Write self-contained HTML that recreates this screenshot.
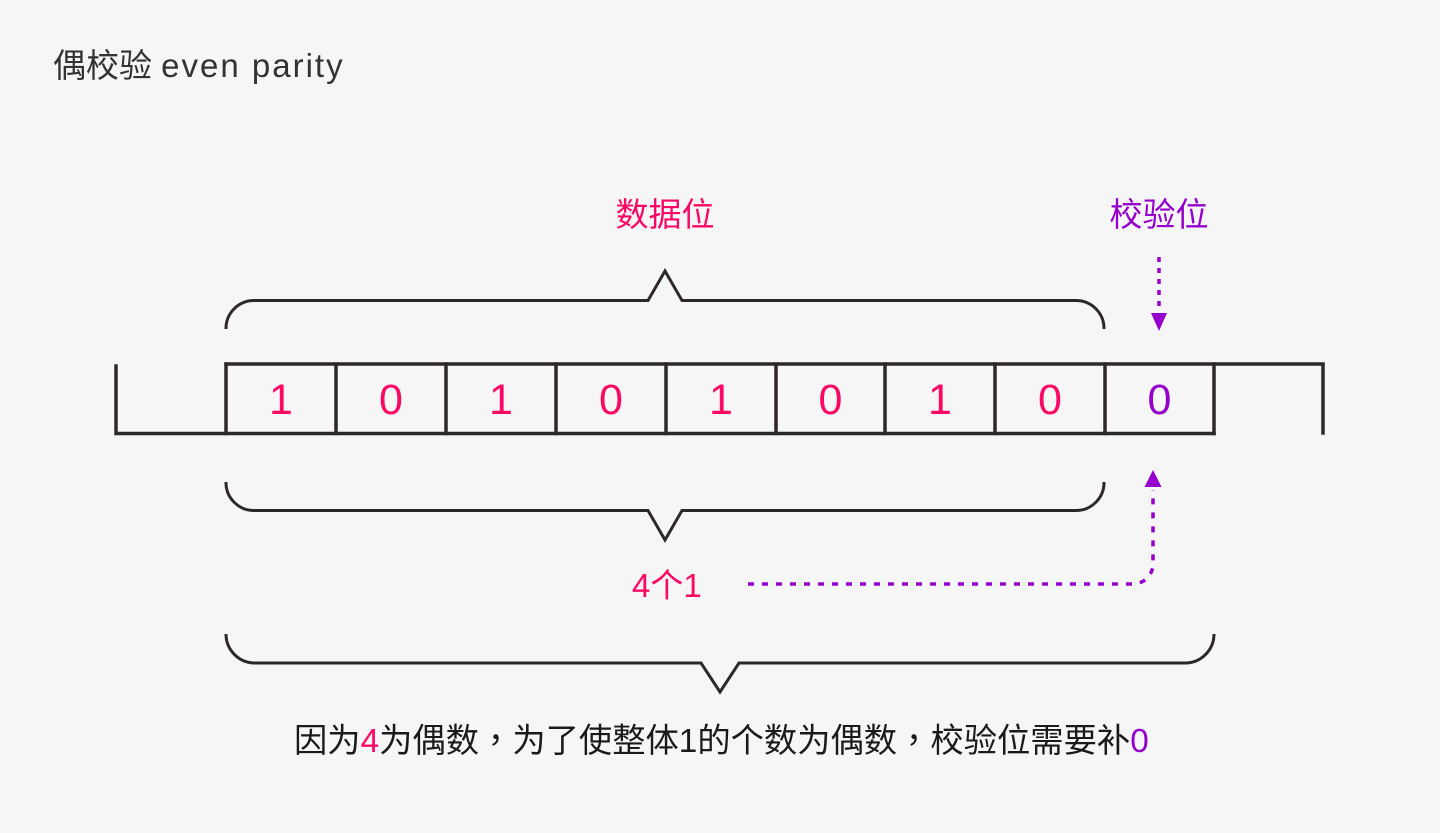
<!DOCTYPE html>
<html>
<head>
<meta charset="utf-8">
<style>
  html,body{margin:0;padding:0;background:#f6f6f6;}
  svg{display:block;}
  .cjk{font-family:"Liberation Sans","Noto Sans CJK SC",sans-serif;}
  .tc{font-family:"Noto Sans CJK TC",sans-serif;}
</style>
</head>
<body>
<svg width="1440" height="833" viewBox="0 0 1440 833" xmlns="http://www.w3.org/2000/svg">
  <rect width="1440" height="833" fill="#f6f6f6"/>

  <!-- Title -->
  <text x="53" y="77" class="cjk" font-size="33" fill="#333333">偶校验 <tspan letter-spacing="2">even parity</tspan></text>

  <!-- Labels -->
  <text x="665" y="226" class="cjk" font-size="33" fill="#fb0865" text-anchor="middle">数据位</text>
  <text x="1159" y="226" class="cjk" font-size="33" fill="#9500cc" text-anchor="middle">校验位</text>

  <g fill="none" stroke="#2e2828" stroke-width="3">
    <!-- top brace -->
    <path d="M226,329 A28,28 0 0 1 254,300.5 H648 L665,271 L682,300.5 H1076 A28,28 0 0 1 1104,329"/>
    <!-- bottom brace 1 -->
    <path d="M226,482 A28,28 0 0 0 254,510.5 H648 L665,540 L682,510.5 H1076 A28,28 0 0 0 1104,482"/>
    <!-- bottom brace 2 -->
    <path d="M226,634 A29,29 0 0 0 255,663 H701 L720,692 L739,663 H1185 A29,29 0 0 0 1214,634"/>
  </g>

  <!-- Signal / cells -->
  <g fill="none" stroke="#2e2828" stroke-width="3.5" stroke-linecap="square">
    <path d="M116,366 V433.5 H1214"/>
    <path d="M226,364 H1323 V433"/>
    <path d="M226,364 V433.5"/>
    <path d="M336,364 V433.5"/>
    <path d="M446,364 V433.5"/>
    <path d="M556,364 V433.5"/>
    <path d="M666,364 V433.5"/>
    <path d="M776,364 V433.5"/>
    <path d="M885,364 V433.5"/>
    <path d="M995,364 V433.5"/>
    <path d="M1105,364 V433.5"/>
    <path d="M1214,364 V433.5"/>
  </g>

  <!-- Digits -->
  <g font-family="'Liberation Sans',sans-serif" font-size="43" text-anchor="middle" fill="#fb0865">
    <text x="281" y="414">1</text>
    <text x="391" y="414">0</text>
    <text x="501" y="414">1</text>
    <text x="611" y="414">0</text>
    <text x="721" y="414">1</text>
    <text x="830.5" y="414">0</text>
    <text x="940" y="414">1</text>
    <text x="1050" y="414">0</text>
    <text x="1159.5" y="414" fill="#9500cc">0</text>
  </g>

  <!-- Top dotted arrow -->
  <path d="M1159,257 V312" stroke="#9500cc" stroke-width="3.5" stroke-dasharray="5 6" fill="none"/>
  <polygon points="1151,313 1167,313 1159,331" fill="#9500cc"/>

  <!-- 4个1 -->
  <text x="632" y="597" class="cjk" font-size="33" fill="#fb0865">4个1</text>

  <!-- L dotted arrow -->
  <path d="M748,584 H1133 A20,20 0 0 0 1153,564 V490" stroke="#9500cc" stroke-width="3.5" stroke-dasharray="6 8" fill="none"/>
  <polygon points="1153,470 1144.5,487 1161.5,487" fill="#9500cc"/>

  <!-- Bottom sentence -->
  <text x="294" y="752" class="cjk" font-size="33.3" fill="#1a1a1a">因为<tspan fill="#fb0865">4</tspan>为偶数<tspan class="tc">，</tspan>为了使整体1的个数为偶数<tspan class="tc">，</tspan>校验位需要补<tspan fill="#9500cc">0</tspan></text>
</svg>
</body>
</html>
